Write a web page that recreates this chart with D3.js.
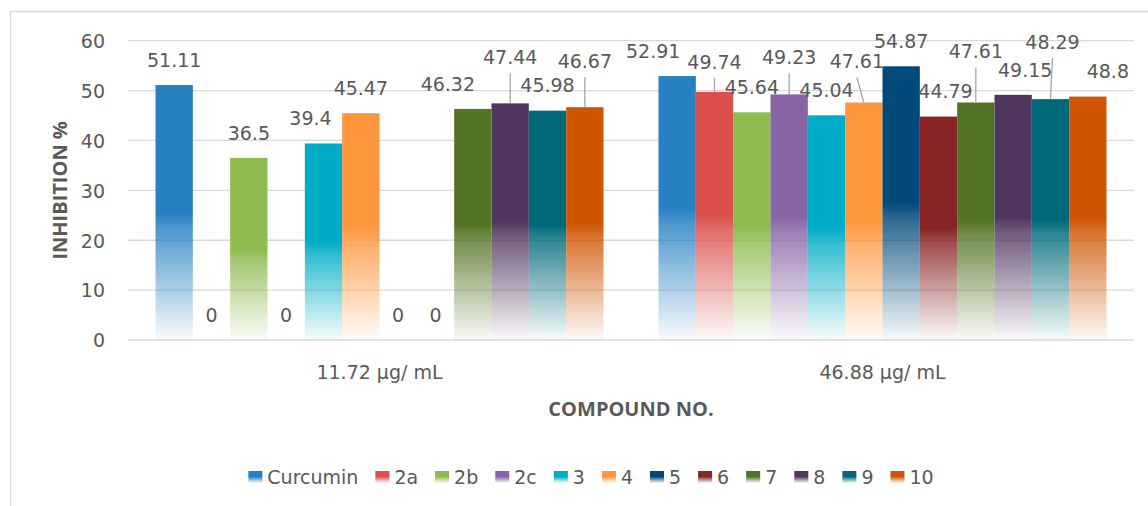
<!DOCTYPE html>
<html>
<head>
<meta charset="utf-8">
<script src="https://cdn.jsdelivr.net/npm/d3@7"></script>
<style>
  html, body { margin: 0; padding: 0; background: #fff; }
  svg { display: block; }
</style>
</head>
<body>
<svg id="chart" width="1148" height="506"></svg>
<script>
// ---- data ----
const groups = ["11.72 µg/ mL", "46.88 µg/ mL"];
const series = ["Curcumin", "2a", "2b", "2c", "3", "4", "5", "6", "7", "8", "9", "10"];
const valuesLow = [51.11, 0, 36.5, 0, 39.4, 45.47, 0, 0, 46.32, 47.44, 45.98, 46.67];
const valuesHigh = [52.91, 49.74, 45.64, 49.23, 45.04, 47.61, 54.87, 44.79, 47.61, 49.15, 48.29, 48.8];
const yTicks = [0, 10, 20, 30, 40, 50, 60];
const colors = ["#2680c2", "#db504b", "#8eba4e", "#8764a6", "#00adc6", "#fd963c",
                "#024a7a", "#892425", "#547425", "#51375f", "#006a7b", "#d05503"];
const yTitle = "INHIBITION %";
const xTitle = "COMPOUND NO.";

// ---- layout ----
const plot = { left: 128, right: 1134, top: 40.7, bottom: 340 };
const textColor = "#595959";
const gridColor = "#d9d9d9";
const numFont = "'DejaVu Sans', sans-serif";
const titleFont = "'Open Sans', sans-serif";

// hand-placed data labels (pixel nudges from the default spot above each bar)
const labelNudge = {
  "0-4": { dx: -13, dy: 0 },
  "0-8": { dx: -25, dy: 0 },
  "0-9": { dx: 0, dy: -21 },
  "0-11": { dx: 0, dy: -21 },
  "1-0": { dx: -24, dy: 0 },
  "1-1": { dx: 0, dy: -5 },
  "1-3": { dx: 0, dy: -12 },
  "1-5": { dx: -7, dy: -16 },
  "1-7": { dx: 7, dy: 0 },
  "1-8": { dx: 0, dy: -26 },
  "1-9": { dx: 12, dy: 0 },
  "1-10": { dx: 2, dy: -32 },
  "1-11": { dx: 20, dy: 0 }
};

const rows = groups.map((g, gi) => ({
  group: g,
  gi,
  values: (gi === 0 ? valuesLow : valuesHigh).map((v, si) => ({ v, si, gi, name: series[si] }))
}));

const svg = d3.select("#chart");

// chart frame
svg.append("rect")
  .attr("x", 10.5).attr("y", 11.5)
  .attr("width", 1160).attr("height", 520)
  .attr("fill", "none").attr("stroke", gridColor).attr("stroke-width", 1.5);

// gradients: solid colour fading toward white at the bar foot
const defs = svg.append("defs");
colors.forEach((c, i) => {
  const lg = defs.append("linearGradient")
    .attr("id", "grad" + i)
    .attr("x1", 0).attr("y1", 0).attr("x2", 0).attr("y2", 1);
  lg.append("stop").attr("offset", 0).attr("stop-color", c).attr("stop-opacity", 1);
  lg.append("stop").attr("offset", 0.5).attr("stop-color", c).attr("stop-opacity", 1);
  lg.append("stop").attr("offset", 0.56).attr("stop-color", c).attr("stop-opacity", 0.82);
  lg.append("stop").attr("offset", 1).attr("stop-color", c).attr("stop-opacity", 0.03);
});

// scales
const step = (plot.right - plot.left) / 2;
const pad = 1 - 448 / step;
const x0 = d3.scaleBand().domain(groups).range([plot.left, plot.right])
  .paddingInner(pad).paddingOuter(pad / 2);
const x1 = d3.scaleBand().domain(d3.range(series.length)).range([0, x0.bandwidth()]).padding(0);
const y = d3.scaleLinear().domain([0, 60]).range([plot.bottom, plot.top]);

// gridlines
svg.append("g").selectAll("line").data(yTicks).join("line")
  .attr("x1", plot.left).attr("x2", plot.right)
  .attr("y1", d => y(d)).attr("y2", d => y(d))
  .attr("stroke", gridColor).attr("stroke-width", 1.3);

// y axis labels
const yAxis = d3.axisLeft(y).tickValues(yTicks).tickSize(0).tickPadding(0);
const yg = svg.append("g").attr("transform", `translate(${105},0)`).call(yAxis);
yg.select(".domain").remove();
yg.selectAll("text")
  .attr("fill", textColor).attr("font-family", numFont).attr("font-size", 19)
  .attr("dy", "0.36em");

// x axis labels
const xAxis = d3.axisBottom(x0).tickSize(0).tickPadding(0);
const xg = svg.append("g").attr("transform", `translate(0,${372})`).call(xAxis);
xg.select(".domain").remove();
xg.selectAll("text")
  .attr("fill", textColor).attr("font-family", numFont).attr("font-size", 19)
  .attr("dy", "0.36em");

// bars
const gsel = svg.append("g").selectAll("g").data(rows).join("g")
  .attr("transform", d => `translate(${x0(d.group)},0)`);
gsel.selectAll("rect").data(d => d.values).join("rect")
  .attr("x", d => x1(d.si))
  .attr("y", d => y(d.v))
  .attr("width", x1.bandwidth())
  .attr("height", d => y(0) - y(d.v))
  .attr("fill", d => `url(#grad${d.si})`);

// data labels with leader lines where moved away
const labels = svg.append("g");
rows.forEach(r => {
  r.values.forEach(d => {
    const bx = x0(r.group) + x1(d.si) + x1.bandwidth() / 2;
    const top = y(d.v);
    const n = labelNudge[`${d.gi}-${d.si}`] || { dx: 0, dy: 0 };
    const lx = bx + n.dx;
    const ly = top - 25 + n.dy;
    if (n.dy <= -5) {
      labels.append("line")
        .attr("x1", lx).attr("y1", ly + 16)
        .attr("x2", bx).attr("y2", top)
        .attr("stroke", "#a6a6a6").attr("stroke-width", 1.3);
    }
    labels.append("text")
      .attr("x", lx).attr("y", ly).attr("dy", "0.36em")
      .attr("text-anchor", "middle")
      .attr("fill", textColor).attr("font-family", numFont).attr("font-size", 19)
      .text(String(d.v));
  });
});

// axis titles
svg.append("text")
  .attr("transform", `translate(60,${(plot.top + plot.bottom) / 2}) rotate(-90)`)
  .attr("text-anchor", "middle").attr("dy", "0.36em")
  .attr("fill", textColor).attr("font-family", titleFont).attr("font-weight", "bold").attr("font-size", 20)
  .text(yTitle);
svg.append("text")
  .attr("x", (plot.left + plot.right) / 2).attr("y", 409).attr("dy", "0.36em")
  .attr("text-anchor", "middle")
  .attr("fill", textColor).attr("font-family", titleFont).attr("font-weight", "bold").attr("font-size", 20)
  .text(xTitle);

// legend
const legend = svg.append("g");
let cx = 0;
series.forEach((s, i) => {
  const it = legend.append("g");
  it.append("rect").attr("x", 0).attr("y", -6).attr("width", 14).attr("height", 12)
    .attr("fill", `url(#grad${i})`);
  const t = it.append("text").attr("x", 19).attr("dy", "0.36em")
    .attr("fill", textColor).attr("font-family", numFont).attr("font-size", 19)
    .text(s);
  const w = t.node().getComputedTextLength();
  it.attr("transform", `translate(${cx},0)`);
  cx += 19 + w + (i < series.length - 1 ? 17 : 0);
});
legend.attr("transform", `translate(${591 - cx / 2},${477})`);
</script>
</body>
</html>
